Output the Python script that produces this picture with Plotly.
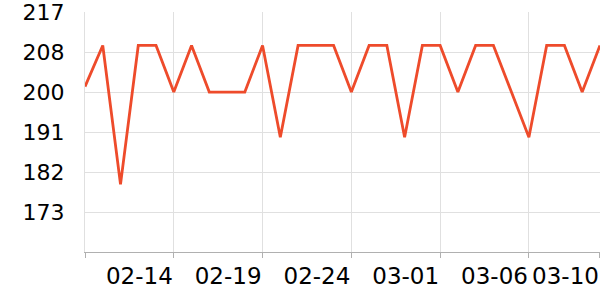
import plotly.graph_objects as go

dates = ["2023-02-09", "2023-02-10", "2023-02-11", "2023-02-12", "2023-02-13", "2023-02-14",
         "2023-02-15", "2023-02-16", "2023-02-17", "2023-02-18", "2023-02-19", "2023-02-20",
         "2023-02-21", "2023-02-22", "2023-02-23", "2023-02-24", "2023-02-25", "2023-02-26",
         "2023-02-27", "2023-02-28", "2023-03-01", "2023-03-02", "2023-03-03", "2023-03-04",
         "2023-03-05", "2023-03-06", "2023-03-07", "2023-03-08", "2023-03-09", "2023-03-10"]
values = [200.7, 209.7, 179.3, 209.7, 209.7, 199.5,
          209.7, 199.5, 199.5, 199.5, 209.7, 189.6,
          209.7, 209.7, 209.7, 199.5, 209.7, 209.7,
          189.6, 209.7, 209.7, 199.5, 209.7, 209.7,
          199.6, 189.6, 209.7, 209.7, 199.5, 209.7]

x_tickvals = ["2023-02-09", "2023-02-14", "2023-02-19", "2023-02-24", "2023-03-01", "2023-03-06", "2023-03-10"]
x_ticktext = ["", "02-14", "02-19", "02-24", "03-01", "03-06", "03-10"]
y_tickvals = [173.25, 182, 190.75, 199.5, 208.25, 217]
y_ticktext = ["173", "182", "191", "200", "208", "217"]

fig = go.Figure(go.Scatter(
    x=dates, y=values, mode="lines",
    line=dict(color="#ee4b2b", width=2.8),
    hoverinfo="skip",
))

fig.update_layout(
    width=600, height=300,
    margin=dict(l=85, r=0, t=10, b=48),
    paper_bgcolor="white", plot_bgcolor="white",
    showlegend=False,
    font=dict(family="DejaVu Sans", size=22, color="#000000"),
)
fig.update_xaxes(
    type="date",
    range=["2023-02-09 00:00", "2023-03-10 00:05"],
    tickmode="array", tickvals=x_tickvals, ticktext=x_ticktext,
    ticklabelposition="outside left", tickangle=0,
    ticklabeloverflow="allow", ticklabelstandoff=3,
    tickfont=dict(size=23),
    showgrid=True, gridcolor="#e0e0e0", gridwidth=1,
    showline=True, linecolor="#b0b0b0", linewidth=1,
    ticks="outside", ticklen=5, tickcolor="#b0b0b0",
    zeroline=False,
)
fig.update_yaxes(
    range=[164.5, 217.02],
    tickmode="array", tickvals=y_tickvals, ticktext=y_ticktext,
    ticklabeloverflow="allow",
    showgrid=True, gridcolor="#e0e0e0", gridwidth=1,
    showline=True, linecolor="#e0e0e0", linewidth=1,
    ticks="", ticklabelstandoff=15,
    zeroline=False,
)

fig.write_html("out.html")
